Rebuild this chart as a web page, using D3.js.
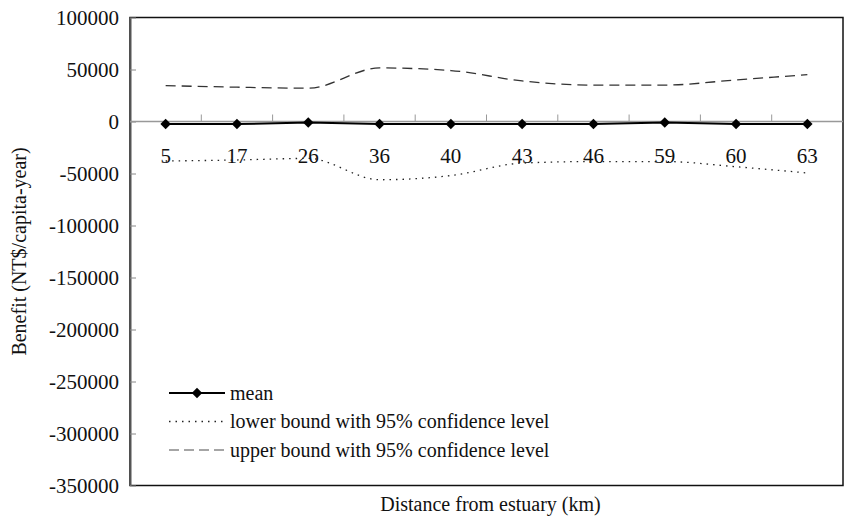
<!DOCTYPE html>
<meta charset="utf-8">
<script src="https://d3js.org/d3.v7.min.js"></script>
<style>
  body { margin: 0; background: #fff; }
  text { font-family: "Liberation Serif", "Times New Roman", serif; }
</style>
<div id="chart"></div>
<script>
// chart values
const distances = ["5", "17", "26", "36", "40", "43", "46", "59", "60", "63"];
const meanValues = [-2500, -2500, -1000, -2500, -2500, -2500, -2500, -1000, -2500, -2500];
const lowerValues = [-38000, -37000, -35500, -56000, -52000, -40000, -38500, -38500, -43500, -49500];
const upperValues = [34500, 33000, 32000, 51500, 49000, 39000, 35000, 35000, 40000, 45000];
const yTicks = [100000, 50000, 0, -50000, -100000, -150000, -200000, -250000, -300000, -350000];
const legendLabels = ["mean", "lower bound with 95% confidence level", "upper bound with 95% confidence level"];

const W = 846, H = 517;
const margin = {top: 17.5, right: 3, bottom: 31.5, left: 130};
const width = W - margin.left - margin.right,
      height = H - margin.top - margin.bottom;

const svg = d3.select("#chart").append("svg")
    .attr("width", W).attr("height", H);
const g = svg.append("g")
    .attr("transform", `translate(${margin.left},${margin.top})`);

const x = d3.scaleBand().domain(distances).range([0, width]);
const y = d3.scaleLinear().domain([-350000, 100000]).range([height, 0]);
const cx = d => x(d) + x.bandwidth() / 2;

// frame
g.append("rect")
    .attr("x", 0).attr("y", 0).attr("width", width).attr("height", height)
    .attr("fill", "none").attr("stroke", "#111").attr("stroke-width", 1.5);

// y axis (ticks inside), plain hyphen for negatives
const yAxis = g.append("g")
    .call(d3.axisLeft(y).tickValues(yTicks).tickSizeInner(-6).tickSizeOuter(0).tickPadding(11)
      .tickFormat(d => String(d)));
yAxis.select(".domain").attr("stroke", "#555").attr("stroke-width", 2);
yAxis.selectAll(".tick line").attr("stroke", "#888");
yAxis.selectAll(".tick text")
    .style("font-family", "'Liberation Serif', serif")
    .style("font-size", "21px").attr("fill", "#111");

// zero line with category tick marks
g.append("line")
    .attr("x1", 0).attr("x2", width).attr("y1", y(0)).attr("y2", y(0))
    .attr("stroke", "#999").attr("stroke-width", 1.5);
g.selectAll(".xtick").data(distances.slice(1)).join("line")
    .attr("x1", d => x(d)).attr("x2", d => x(d))
    .attr("y1", y(0)).attr("y2", y(0) - 7)
    .attr("stroke", "#999").attr("stroke-width", 1);

// category labels
g.selectAll(".xlab").data(distances).join("text")
    .attr("x", d => cx(d)).attr("y", y(0) + 41)
    .attr("text-anchor", "middle")
    .style("font-size", "21px").attr("fill", "#111")
    .text(d => d);

const lineGen = vals => d3.line()
    .x((v, i) => cx(distances[i]))
    .y(v => y(v))
    .curve(d3.curveMonotoneX)(vals);

// upper bound (dashed)
g.append("path").attr("d", lineGen(upperValues))
    .attr("fill", "none").attr("stroke", "#333").attr("stroke-width", 1.3)
    .attr("stroke-dasharray", "10,6");
// lower bound (dotted)
g.append("path").attr("d", lineGen(lowerValues))
    .attr("fill", "none").attr("stroke", "#222").attr("stroke-width", 1.3)
    .attr("stroke-dasharray", "1.5,5");
// mean
g.append("path").attr("d", d3.line().x((v, i) => cx(distances[i])).y(v => y(v))(meanValues))
    .attr("fill", "none").attr("stroke", "#000").attr("stroke-width", 2);
const diamond = d3.symbol().type(d3.symbolDiamond2).size(70);
g.selectAll(".pt").data(meanValues).join("path")
    .attr("d", diamond)
    .attr("transform", (v, i) => `translate(${cx(distances[i])},${y(v)})`)
    .attr("fill", "#000");

// legend
const lg = svg.append("g").attr("transform", "translate(169,393)");
const styles = [
  {stroke: "#000", w: 2, dash: null},
  {stroke: "#222", w: 1.3, dash: "1.5,5"},
  {stroke: "#888", w: 1.3, dash: "10,5"}
];
legendLabels.forEach((lab, i) => {
  const row = lg.append("g").attr("transform", `translate(0,${i * 28.5})`);
  row.append("line").attr("x1", 0).attr("x2", 56).attr("y1", 0).attr("y2", 0)
      .attr("stroke", styles[i].stroke).attr("stroke-width", styles[i].w)
      .attr("stroke-dasharray", styles[i].dash);
  if (i === 0) row.append("path").attr("d", diamond).attr("transform", "translate(28,0)").attr("fill", "#000");
  row.append("text").attr("x", 61).attr("y", 6.5)
      .style("font-size", "20px").attr("fill", "#111").text(lab);
});

// axis titles
svg.append("text")
    .attr("x", margin.left + width / 2 + 4).attr("y", 511)
    .attr("text-anchor", "middle").style("font-size", "20px").attr("fill", "#111")
    .text("Distance from estuary (km)");
svg.append("text")
    .attr("transform", `translate(26,${margin.top + height / 2}) rotate(-90)`)
    .attr("text-anchor", "middle").style("font-size", "20px").attr("fill", "#111")
    .text("Benefit (NT$/capita-year)");
</script>
